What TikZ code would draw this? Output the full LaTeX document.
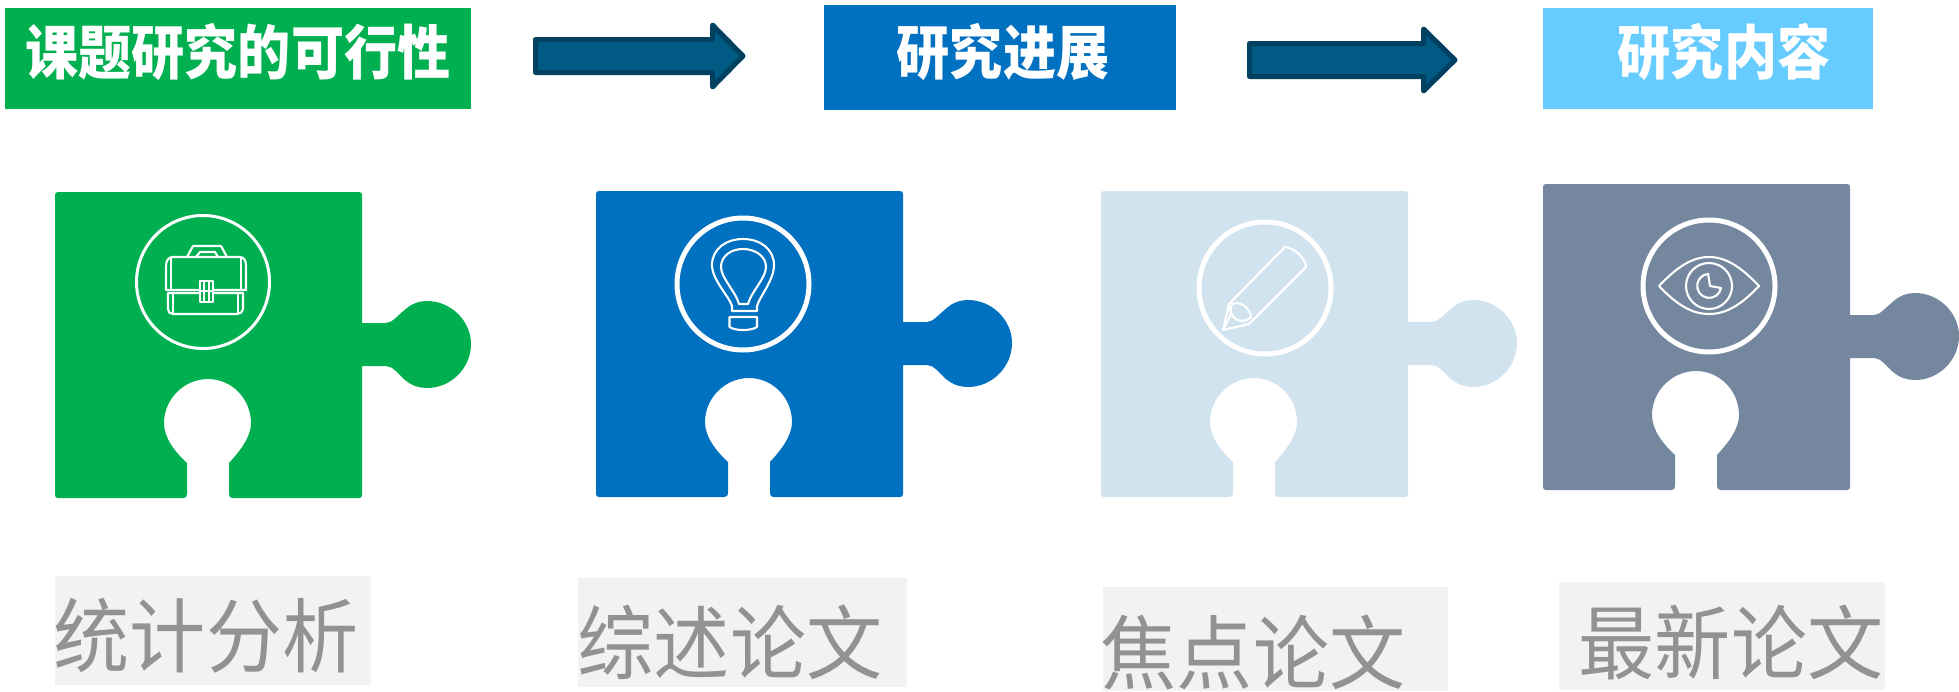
\documentclass[tikz,border=0pt]{standalone}
\usepackage{fontspec}
\newfontfamily\cjk[FakeStretch=0.94]{Noto Sans CJK SC}
\newfontfamily\cjkhead[FakeStretch=0.9]{Noto Sans CJK SC}
\usepackage{tikz}

\definecolor{pgreen}{HTML}{00B050}
\definecolor{pblue}{HTML}{0070C0}
\definecolor{ppale}{HTML}{D2E3F0}
\definecolor{pslate}{HTML}{74879E}
\definecolor{psky}{HTML}{66CCFF}
\definecolor{arrowfill}{HTML}{005A84}
\definecolor{arrowline}{HTML}{004060}
\definecolor{labelbg}{HTML}{F2F2F2}
\definecolor{labeltext}{HTML}{929292}

\tikzset{
  banner/.style={inner sep=0pt,minimum width=#1},
  bannertext/.style={inner sep=0pt,text=white,font=\cjkhead\bfseries\fontsize{59}{59}\selectfont},
  labelbox/.style={inner sep=0pt,fill=labelbg},
  labeltxt/.style={inner sep=0pt,text=labeltext,font=\cjk\fontsize{81}{81}\selectfont},
  blockarrow/.style={draw=arrowline,fill=arrowfill,line width=5pt,line join=round},
  icon/.style={draw=white,line width=2.1pt,line join=round},
  ring/.style={draw=white,line width=5pt},
  pics/puzzle/.style={code={
    \fill[#1] (3,0) -- (304,0) .. controls (306,0) and (307,1) .. (307,3) -- (307,131) -- (331,131)
      .. controls (337,131) and (342,124) .. (352,116) .. controls (358,111) and (365,109) .. (372,109)
      .. controls (396,109) and (416,129) .. (416,152) .. controls (416,176) and (396,196) .. (372,196)
      .. controls (365,196) and (357,194) .. (350,188) .. controls (343,182) and (338,174) .. (331,174)
      -- (307,174) -- (307,303) .. controls (307,305) and (306,306) .. (304,306) -- (178,306)
      .. controls (175,306) and (174,305) .. (174,302) -- (174,271)
      .. controls (185,259) and (196,245) .. (196,231) .. controls (196,207) and (177,187) .. (153,187)
      .. controls (129,187) and (109,207) .. (109,231) .. controls (109,246) and (120,260) .. (132,271)
      -- (132,302) .. controls (132,305) and (131,306) .. (128,306) -- (3,306)
      .. controls (1,306) and (0,305) .. (0,303) -- (0,3) .. controls (0,1) and (1,0) .. (3,0) -- cycle;
  }}
}

\begin{document}
\begin{tikzpicture}[x=1pt,y=-1pt]
  \useasboundingbox (0,0) rectangle (1959,691);

  % Top row
  \node[banner=466,minimum height=101,fill=pgreen] (boxfeasible) at (238,58.5) {};
  \node[bannertext] (feasible) at (238,52) {课题研究的可行性};
  \node[banner=352,minimum height=105,fill=pblue] (boxprogress) at (999.5,57.5) {};
  \node[bannertext] (progress) at (1003,52) {研究进展};
  \node[banner=330,minimum height=101,fill=psky] (boxcontent) at (1708,58.5) {};
  \node[bannertext] (content) at (1724,52) {研究内容};

  % Arrows
  \draw[blockarrow] (535.5,39.5) -- (712.5,39.5) -- (712.5,25) -- (743,56) -- (712.5,87) -- (712.5,72.5) -- (535.5,72.5) -- cycle;
  \draw[blockarrow] (1249.5,43.5) -- (1423.5,43.5) -- (1423.5,29) -- (1455,60) -- (1423.5,91) -- (1423.5,76.5) -- (1249.5,76.5) -- cycle;

  % Puzzle pieces
  \pic (pieceA) at (55,192) {puzzle=pgreen};
  \pic (pieceB) at (596,191) {puzzle=pblue};
  \pic (pieceC) at (1101,191) {puzzle=ppale};
  \pic (pieceD) at (1543,184) {puzzle=pslate};

  % Toolbox
  \draw[ring,line width=3pt] (203,282) circle [radius=66.5];
  \begin{scope}[shift={(205,282)},icon]
    \draw (-39,8) -- (-39,-16) .. controls (-39,-22) and (-36,-25) .. (-32,-25) -- (34,-25) .. controls (39,-25) and (41,-22) .. (41,-16) -- (41,8) -- cycle;
    \draw (-34,8) -- (-34,-25) (36,8) -- (36,-25);
    \draw (-37,11) -- (-37,27) .. controls (-37,30) and (-35,32) .. (-32,32) -- (32,32) .. controls (35,32) and (38,30) .. (38,27) -- (38,11) -- cycle;
    \draw (-32,11) -- (-32,32) (33,11) -- (33,32);
    \draw (-18,-25) -- (-12,-36) -- (16,-36) -- (22,-25) (-9,-25) -- (-5,-30) -- (10,-30) -- (13,-25);
    \draw[fill=pgreen] (-5,-1) rectangle (8,20);
    \draw (-1,-1) -- (-1,20) (4,-1) -- (4,20) (-5,9) -- (8,9);
  \end{scope}

  % Bulb
  \draw[ring] (743,284) circle [radius=66];
  \begin{scope}[shift={(743,284)},icon]
    \draw (-11,27) -- (-11,22) .. controls (-14,12) and (-31,-4) .. (-31,-19) .. controls (-31,-35) and (-17,-45) .. (0,-45)
      .. controls (17,-45) and (31,-35) .. (31,-19) .. controls (31,-4) and (17,12) .. (14,22) -- (14,27) -- cycle;
    \draw (-4,20) .. controls (-7,8) and (-22,-6) .. (-22,-17) .. controls (-22,-28) and (-12,-35) .. (0,-35)
      .. controls (12,-35) and (23,-28) .. (23,-17) .. controls (23,-6) and (8,8) .. (5,20) -- cycle;
    \draw (-13.5,33) -- (14,33) -- (14,43) .. controls (8,47) and (-8,47) .. (-13.5,43) -- cycle;
  \end{scope}

  % Pencil
  \draw[ring] (1265,288) circle [radius=66];
  \begin{scope}[shift={(1265,288)},icon]
    \draw (-42,42) -- (-36,16) -- (20,-41) .. controls (30,-40) and (40,-30) .. (41,-21) -- (-16,36) -- cycle;
    \draw (-36,16) -- (-34,26) (-34,26) -- (-42,42);
    \draw (-33,16) .. controls (-24,12) and (-14,22) .. (-14,29) .. controls (-18,34) and (-24,33) .. (-28,32) .. controls (-34,28) and (-36,22) .. (-33,16) -- cycle;
  \end{scope}

  % Eye
  \draw[ring] (1709,286) circle [radius=66];
  \begin{scope}[shift={(1709,286)},icon]
    \draw (-50,0) .. controls (-32,-19) and (-17,-29) .. (0,-29) .. controls (17,-29) and (32,-19) .. (50,0)
      .. controls (32,19) and (17,28) .. (0,28) .. controls (-17,28) and (-32,19) .. (-50,0) -- cycle;
    \draw (0,0) circle [radius=23];
    \draw (12,2) arc [start angle=10,end angle=265,radius=12] -- (1,0) -- cycle;
  \end{scope}

  % Bottom labels
  \node[labelbox,minimum width=316,minimum height=109] (boxstat) at (213,630.5) {};
  \node[labeltxt] (stat) at (206,636) {统计分析};
  \node[labelbox,minimum width=329,minimum height=109] (boxreview) at (742.5,632.5) {};
  \node[labeltxt] (review) at (730,642) {综述论文};
  \node[labelbox,minimum width=345,minimum height=104] (boxfocus) at (1275.5,639) {};
  \node[labeltxt] (focus) at (1253,653) {焦点论文};
  \node[labelbox,minimum width=326,minimum height=108] (boxlatest) at (1722,636) {};
  \node[labeltxt] (latest) at (1731,642) {最新论文};
\end{tikzpicture}
\end{document}
